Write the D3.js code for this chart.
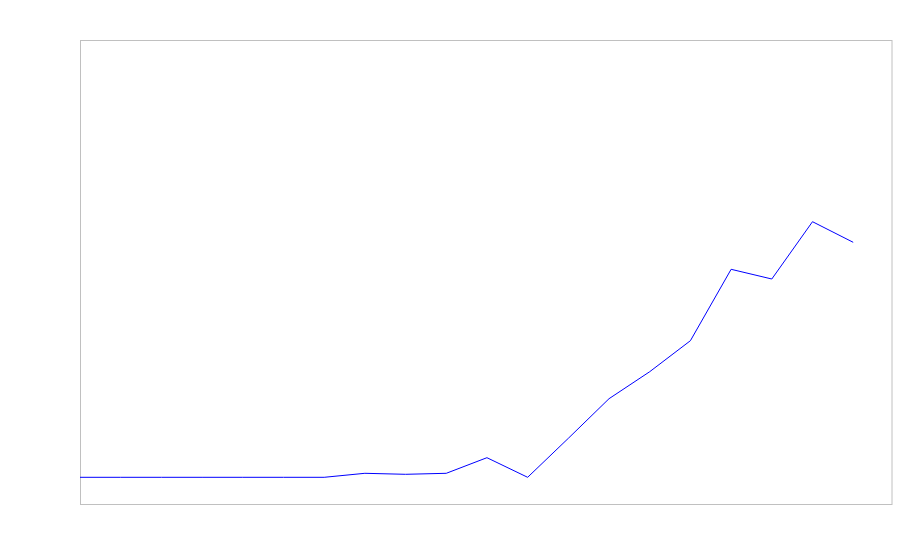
<!DOCTYPE html>
<html>
<head>
<meta charset="utf-8">
<script src="https://cdn.jsdelivr.net/npm/d3@7"></script>
<style>
  body { margin: 0; background: #fff; }
</style>
</head>
<body>
<div id="chart"></div>
<script>
// Data (no labels shown in the chart)
const indices = d3.range(20);
const values = [0, 0, 0, 0, 0, 0, 0, 0.40, 0.30, 0.40, 1.96, 0, 3.9, 7.86, 10.56, 13.66, 20.8, 19.83, 25.56, 23.5];
const yDomain = [-2.67, 43.73];

const width = 900;
const height = 560;
const margin = { top: 40, right: 8, bottom: 56, left: 80 };

const svg = d3.select('#chart')
    .append('svg')
    .attr('width', width)
    .attr('height', height);

const x = d3.scaleLinear()
    .domain([0, 19])
    .range([margin.left, 853.2]);

const y = d3.scaleLinear()
    .domain(yDomain)
    .range([height - margin.bottom, margin.top]);

// Plot frame
svg.append('rect')
    .attr('x', margin.left + 0.5)
    .attr('y', margin.top + 0.5)
    .attr('width', width - margin.left - margin.right - 0.5)
    .attr('height', height - margin.top - margin.bottom)
    .attr('fill', 'none')
    .attr('stroke', '#c0c0c0')
    .attr('stroke-width', 1);

const line = d3.line()
    .x((d, i) => x(indices[i]))
    .y(d => y(d));

svg.append('path')
    .datum(values)
    .attr('fill', 'none')
    .attr('stroke', '#0000ff')
    .attr('stroke-width', 1)
    .attr('d', line);
</script>
</body>
</html>
